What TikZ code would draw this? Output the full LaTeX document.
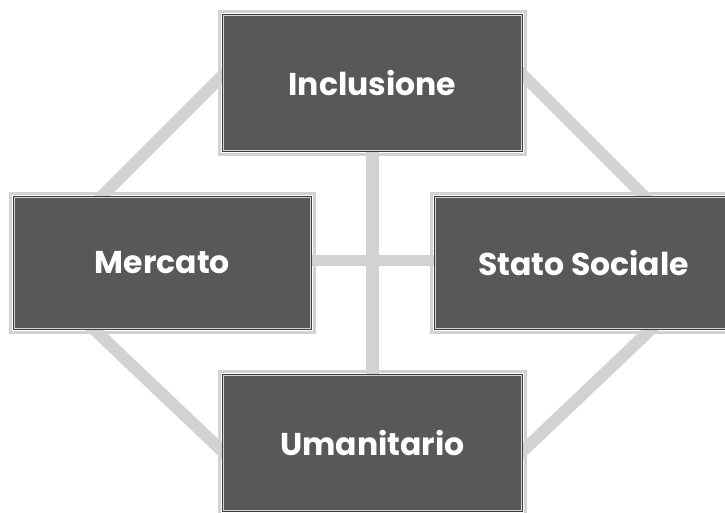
\documentclass[tikz,border=0pt]{standalone}
\usepackage{fontspec}
\setmainfont{Poppins}
\usetikzlibrary{backgrounds}
\definecolor{boxfill}{HTML}{58585A}
\definecolor{boxline}{HTML}{3E3E40}
\definecolor{lightg}{HTML}{D1D2D4}
\tikzset{
  stagebox/.style={rectangle, fill=boxfill, draw=lightg, line width=1pt, inner sep=0pt, outer sep=0pt,
    text=white, font=\fontsize{31.5}{36}\selectfont\bfseries},
  link/.style={draw=lightg, line width=12pt},
}
\begin{document}
\begin{tikzpicture}[x=1pt,y=-1pt]
\useasboundingbox (0,0) rectangle (725,512);
\clip (0,0) rectangle (725,512);
\node[stagebox, minimum width=298pt, minimum height=135pt] (inc) at (372.5,83) {Inclusione};
\node[stagebox, minimum width=296pt, minimum height=131pt] (merc) at (162.5,263) {Mercato};
\node[stagebox, minimum width=296pt, minimum height=131pt, xshift=1pt] (stato) at (582.5,263) {Stato Sociale};
\node[stagebox, minimum width=298pt, minimum height=135pt] (uman) at (372.5,443) {Umanitario};
\foreach \n in {inc,merc,stato,uman}{
  \draw[boxline, line width=1pt] ([shift={(-1,-1)}]\n.north west) rectangle ([shift={(1,1)}]\n.south east);
  \draw[lightg, line width=3pt] ([shift={(-4,-4)}]\n.north west) rectangle ([shift={(4,4)}]\n.south east);
}
\begin{pgfonlayer}{background}
  \draw[link, line width=13pt] (inc.center) -- (uman.center);
  \draw[link, line width=11pt] ([yshift=3pt]merc.center) -- ([yshift=3pt]stato.center);
  \draw[link] ([shift={(75.5,10.5)}]merc.north west) -- ([shift={(16.5,-25)}]inc.west);
  \draw[link] ([shift={(219.5,9.5)}]stato.north west) -- ([shift={(-16.5,-26)}]inc.east);
  \draw[link] ([shift={(65.5,-12.5)}]merc.south west) -- ([shift={(16.5,25)}]uman.west);
  \draw[link] ([shift={(229.5,-12.5)}]stato.south west) -- ([shift={(-16.5,25)}]uman.east);
\end{pgfonlayer}
\end{tikzpicture}
\end{document}
